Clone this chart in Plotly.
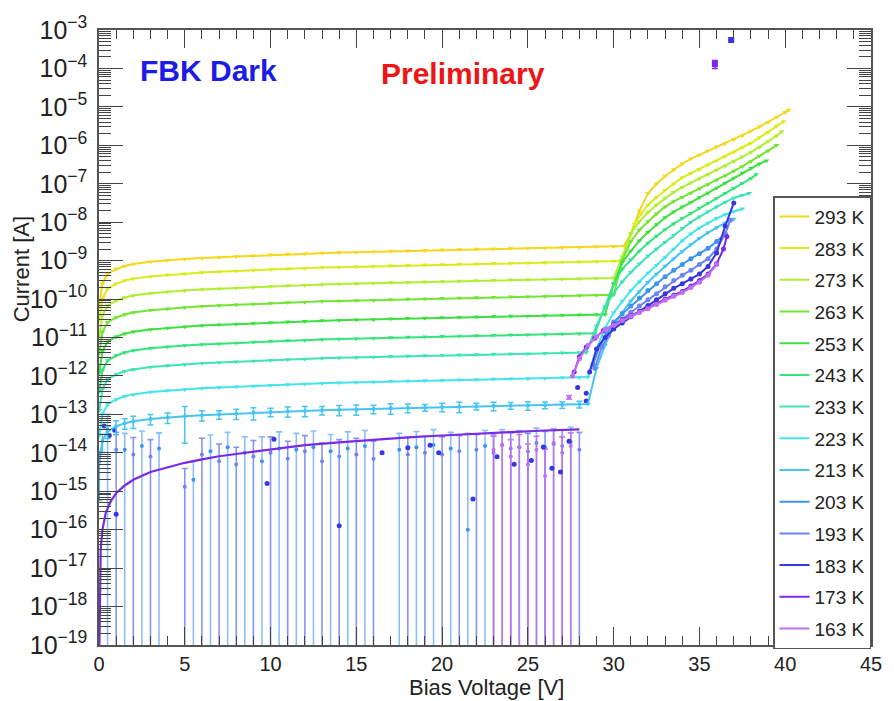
import plotly.graph_objects as go

# ---------------- data (currents, stored as log10(I/A)) ----------------
TEMPERATURES = ["293 K", "283 K", "273 K", "263 K", "253 K", "243 K", "233 K",
                "223 K", "213 K", "203 K", "193 K", "183 K", "173 K", "163 K"]
COLORS = ["#f3d81c", "#d9ec1c", "#b0ee34", "#74e434", "#3ee040", "#36e47c", "#3ee4b8",
          "#46e4e8", "#48c4f2", "#3c94f0", "#6e84f0", "#3636e2", "#7a2ae4", "#c06ef2"]

# common voltage grid of the pre-breakdown plateau [V]
V_PLATEAU = [0.02, 0.2, 0.5, 1, 1.5, 2, 3, 4, 5, 6, 7, 8, 9, 10, 11, 12, 13, 14, 15, 16,
             17, 18, 19, 20, 21, 22, 23, 24, 25, 26, 27, 28]

LOG_PLATEAU_293 = [-10.15, -9.60, -9.35, -9.22, -9.14, -9.09, -9.03, -8.99, -8.96, -8.93, -8.91, -8.89,
                   -8.87, -8.85, -8.83, -8.82, -8.80, -8.79, -8.78, -8.77, -8.75, -8.74, -8.73, -8.72,
                   -8.71, -8.70, -8.69, -8.68, -8.68, -8.67, -8.66, -8.65]
LOG_PLATEAU_283 = [-10.53, -9.98, -9.73, -9.60, -9.52, -9.47, -9.41, -9.37, -9.34, -9.31, -9.29, -9.27,
                   -9.25, -9.23, -9.21, -9.20, -9.18, -9.17, -9.16, -9.15, -9.13, -9.12, -9.11, -9.10,
                   -9.09, -9.08, -9.07, -9.06, -9.06, -9.05, -9.04, -9.03]
LOG_PLATEAU_273 = [-10.97, -10.42, -10.17, -10.04, -9.96, -9.91, -9.85, -9.81, -9.78, -9.75, -9.73, -9.71,
                   -9.69, -9.67, -9.65, -9.64, -9.62, -9.61, -9.60, -9.59, -9.57, -9.56, -9.55, -9.54,
                   -9.53, -9.52, -9.51, -9.50, -9.50, -9.49, -9.48, -9.47]
LOG_PLATEAU_263 = [-11.41, -10.86, -10.61, -10.48, -10.40, -10.35, -10.29, -10.25, -10.22, -10.19, -10.17, -10.15,
                   -10.13, -10.11, -10.09, -10.08, -10.06, -10.05, -10.04, -10.03, -10.01, -10.00, -9.99, -9.98,
                   -9.97, -9.96, -9.95, -9.94, -9.94, -9.93, -9.92, -9.91]
LOG_PLATEAU_253 = [-11.91, -11.36, -11.11, -10.98, -10.90, -10.85, -10.79, -10.75, -10.72, -10.69, -10.67, -10.65,
                   -10.63, -10.61, -10.59, -10.58, -10.56, -10.55, -10.54, -10.53, -10.51, -10.50, -10.49, -10.48,
                   -10.47, -10.46, -10.45, -10.44, -10.44, -10.43, -10.42, -10.41]
LOG_PLATEAU_243 = [-12.40, -11.85, -11.60, -11.47, -11.39, -11.34, -11.28, -11.24, -11.21, -11.18, -11.16, -11.14,
                   -11.12, -11.10, -11.08, -11.07, -11.05, -11.04, -11.03, -11.02, -11.00, -10.99, -10.98, -10.97,
                   -10.96, -10.95, -10.94, -10.93, -10.93, -10.92, -10.91, -10.90]
LOG_PLATEAU_233 = [-12.89, -12.34, -12.09, -11.96, -11.88, -11.83, -11.77, -11.73, -11.70, -11.67, -11.65, -11.63,
                   -11.61, -11.59, -11.57, -11.56, -11.54, -11.53, -11.52, -11.51, -11.49, -11.48, -11.47, -11.46,
                   -11.45, -11.44, -11.43, -11.42, -11.42, -11.41, -11.40, -11.39]
LOG_PLATEAU_223 = [-13.54, -12.99, -12.74, -12.61, -12.53, -12.48, -12.42, -12.38, -12.35, -12.32, -12.30, -12.28,
                   -12.26, -12.24, -12.22, -12.21, -12.19, -12.18, -12.17, -12.16, -12.14, -12.13, -12.12, -12.11,
                   -12.10, -12.09, -12.08, -12.07, -12.07, -12.06, -12.05, -12.04]
LOG_PLATEAU_213 = [-14.24, -13.69, -13.44, -13.31, -13.23, -13.18, -13.12, -13.08, -13.05, -13.02, -13.00, -12.98,
                   -12.96, -12.94, -12.92, -12.91, -12.89, -12.88, -12.87, -12.86, -12.84, -12.83, -12.82, -12.81,
                   -12.80, -12.79, -12.78, -12.77, -12.77, -12.76, -12.75, -12.74]
REL_ERR_213 = [0.9, 0.5, 0.35, 0.4, 0.3, 0.35, 0.3, 0.3, 0.8, 0.3, 0.25, 0.3, 0.35, 0.25, 0.3, 0.3,
               0.25, 0.3, 0.3, 0.25, 0.3, 0.25, 0.2, 0.25, 0.3, 0.2, 0.25, 0.2, 0.25, 0.2, 0.2, 0.2]

# breakdown / post-breakdown branches
V_HIGH_293 = [29, 30, 30.6, 31, 31.5, 32, 32.5, 33, 33.5, 34, 34.5, 35, 35.5, 36, 36.5, 37, 37.5, 38, 38.5, 39, 39.5, 40, 40.2]
LOG_HIGH_293 = [-8.64, -8.63, -8.62, -8.3, -7.7, -7.25, -7.0, -6.8, -6.63, -6.48, -6.35, -6.25, -6.14, -6.04, -5.95,
                -5.85, -5.75, -5.63, -5.52, -5.4, -5.27, -5.14, -5.08]
V_HIGH_283 = [29, 30, 30.4, 30.8, 31.2, 31.6, 32, 32.5, 33, 33.5, 34, 34.5, 35, 35.5, 36, 36.5, 37, 37.5, 38, 38.5, 39, 39.5, 39.9]
LOG_HIGH_283 = [-9.02, -9.01, -9.01, -8.6, -8.05, -7.78, -7.55, -7.35, -7.17, -7.0, -6.84, -6.73, -6.62, -6.51, -6.4,
                -6.29, -6.18, -6.06, -5.94, -5.8, -5.66, -5.5, -5.38]
V_HIGH_273 = [29, 30, 30.5, 31, 31.5, 32, 32.5, 33, 33.5, 34, 34.5, 35, 35.5, 36, 36.5, 37, 37.5, 38, 38.5, 39, 39.5, 39.8]
LOG_HIGH_273 = [-9.46, -9.45, -8.9, -8.3, -7.98, -7.75, -7.55, -7.38, -7.22, -7.09, -6.98, -6.87, -6.76, -6.65, -6.54,
                -6.42, -6.3, -6.18, -6.05, -5.9, -5.75, -5.64]
V_HIGH_263 = [29, 30, 30.5, 31, 31.5, 32, 32.5, 33, 33.5, 34, 34.5, 35, 35.5, 36, 36.5, 37, 37.5, 38, 38.5, 39, 39.5]
LOG_HIGH_263 = [-9.90, -9.89, -9.0, -8.5, -8.2, -7.98, -7.78, -7.6, -7.46, -7.35, -7.24, -7.13, -7.02, -6.9, -6.79,
                -6.67, -6.55, -6.42, -6.28, -6.14, -6.0]
V_HIGH_253 = [29, 29.5, 30, 30.5, 31, 31.5, 32, 32.5, 33, 33.5, 34, 34.5, 35, 35.5, 36, 36.5, 37, 37.5, 38, 38.5, 38.9]
LOG_HIGH_253 = [-10.40, -10.40, -9.6, -9.05, -8.75, -8.48, -8.26, -8.06, -7.88, -7.73, -7.6, -7.48, -7.36, -7.24, -7.11,
                -6.98, -6.85, -6.72, -6.6, -6.48, -6.4]
V_HIGH_243 = [28.9, 29.5, 30, 30.5, 31, 31.5, 32, 32.5, 33, 33.5, 34, 34.5, 35, 35.5, 36, 36.5, 37, 37.5, 38, 38.3]
LOG_HIGH_243 = [-10.89, -10.2, -9.6, -9.22, -8.98, -8.75, -8.54, -8.36, -8.19, -8.04, -7.9, -7.77, -7.64, -7.51, -7.38,
                -7.25, -7.12, -6.99, -6.86, -6.76]
V_HIGH_233 = [28.4, 29, 29.5, 30, 30.5, 31, 31.5, 32, 32.5, 33, 33.5, 34, 34.5, 35, 35.5, 36, 36.5, 37, 37.5, 37.9]
LOG_HIGH_233 = [-11.39, -10.7, -10.2, -9.85, -9.55, -9.3, -9.08, -8.88, -8.7, -8.52, -8.34, -8.16, -8.0, -7.86, -7.72,
                -7.6, -7.48, -7.37, -7.3, -7.25]
V_HIGH_223 = [28.5, 29, 29.5, 30, 30.5, 31, 31.5, 32, 32.5, 33, 33.5, 34, 34.5, 35, 35.5, 36, 36.5, 37, 37.5]
LOG_HIGH_223 = [-12.03, -11.3, -10.75, -10.35, -10.05, -9.78, -9.55, -9.32, -9.12, -8.92, -8.7, -8.48, -8.3, -8.15,
                -8.02, -7.9, -7.8, -7.72, -7.65]
V_HIGH_213 = [28.5, 29, 29.5, 30, 30.5, 31, 31.5, 32, 32.5, 33, 33.5, 34, 34.5, 35, 35.5, 36, 36.5, 37]
LOG_HIGH_213 = [-12.73, -11.8, -11.2, -10.7, -10.35, -10.05, -9.8, -9.56, -9.35, -9.14, -8.95, -8.76, -8.58, -8.42,
                -8.27, -8.14, -8.02, -7.92]
V_HIGH_203 = [28.8, 29.2, 29.6, 30, 30.5, 31, 31.5, 32, 32.5, 33, 33.5, 34, 34.5, 35, 35.5, 36, 36.5]
LOG_HIGH_203 = [-11.7, -11.2, -10.9, -10.6, -10.38, -10.18, -9.98, -9.78, -9.6, -9.42, -9.25, -9.1, -8.95, -8.82,
                -8.68, -8.5, -8.3]
V_HIGH_193 = [28.9, 29.3, 29.7, 30, 30.5, 31, 31.5, 32, 32.5, 33, 33.5, 34, 34.5, 35, 35.5, 36, 36.5, 36.8]
LOG_HIGH_193 = [-11.8, -11.25, -10.95, -10.72, -10.52, -10.34, -10.18, -10.02, -9.86, -9.68, -9.52, -9.38, -9.25,
                -9.1, -8.95, -8.7, -8.3, -7.95]
V_HIGH_183 = [28.6, 29, 29.5, 30, 30.5, 31, 31.5, 32, 32.5, 33, 33.5, 34, 34.5, 35, 35.5, 36, 36.5, 37]
LOG_HIGH_183 = [-11.9, -11.3, -11.0, -10.78, -10.62, -10.46, -10.32, -10.17, -10.02, -9.86, -9.72, -9.6, -9.48,
                -9.35, -9.15, -8.8, -8.1, -7.5]
V_HIGH_173 = [27.7, 28.0, 28.4, 28.9, 29.4, 30, 30.5, 31, 31.5, 32, 32.5, 33, 33.5, 34, 34.5, 35, 35.5, 36, 36.4, 36.6]
LOG_HIGH_173 = [-11.9, -11.5, -11.25, -11.02, -10.82, -10.66, -10.54, -10.43, -10.33, -10.23, -10.12, -10.0, -9.9,
                -9.8, -9.66, -9.52, -9.35, -9.08, -8.7, -8.37]
V_HIGH_163 = [27.6, 28, 28.5, 29, 29.5, 30, 30.5, 31, 31.5, 32, 32.5, 33, 33.5, 34, 34.5, 35, 35.5, 36]
LOG_HIGH_163 = [-12.0, -11.55, -11.2, -10.98, -10.8, -10.68, -10.56, -10.45, -10.35, -10.25, -10.14, -10.03, -9.93,
                -9.83, -9.7, -9.56, -9.38, -9.1]

# 173 K low-voltage fit curve
V_LOW_173 = [0.01, 0.05, 0.1, 0.2, 0.4, 0.7, 1, 1.5, 2, 3, 4, 5, 6, 7, 8, 10, 12, 14, 16, 18, 20, 22, 24, 26, 28]
LOG_LOW_173 = [-19.5, -17.0, -16.5, -16.0, -15.55, -15.25, -15.05, -14.85, -14.7, -14.5, -14.38, -14.26, -14.17,
               -14.09, -14.03, -13.91, -13.8, -13.73, -13.66, -13.6, -13.55, -13.5, -13.46, -13.42, -13.39]

# low-current points with large (symmetric) errors [A]
V_LOW_203 = [0.5, 1.5, 2.5, 3.5, 5.5, 6.5, 7.5, 8.5, 9.5, 10.5, 11.5, 12.5, 13.5, 14.5, 15.5, 17.5, 18.5,
             19.5, 20.5, 21.5, 22.5, 23.5, 24.5, 25.5, 26.5, 27.5]
I_LOW_203 = [4e-14, 1.2e-14, 1.5e-14, 1.3e-14, 2e-15, 1.1e-14, 1.4e-14, 1e-14, 6e-15, 1.3e-14, 1.2e-14, 1.4e-14,
             1.1e-14, 1.3e-14, 1.5e-14, 1.2e-14, 1.4e-14, 1.6e-14, 1.3e-14, 1e-16, 1.5e-14, 1.6e-14, 1.4e-14,
             1.8e-14, 1.7e-14, 1.9e-14]
E_LOW_203 = [6e-14, 2.0e-14, 2.2e-14, 2.0e-14, 4e-15, 1.8e-14, 2.0e-14, 1.6e-14, 2.0e-14, 2.2e-14, 2.0e-14, 2.3e-14,
             1.9e-14, 2.2e-14, 2.3e-14, 2.0e-14, 2.2e-14, 2.4e-14, 2.1e-14, 3.2e-14, 2.3e-14, 2.4e-14, 2.4e-14,
             2.6e-14, 2.6e-14, 2.8e-14]
V_LOW_193 = [1, 2, 3, 5, 6, 7, 8, 9, 10, 11, 12, 13, 14, 15, 16, 18, 19, 20, 21, 22, 23, 24, 25, 26, 27, 28]
I_LOW_193 = [1.2e-14, 9e-15, 8e-15, 1.3e-15, 9e-15, 6e-15, 5e-15, 8e-15, 1e-14, 7e-15, 1.1e-14, 6e-15, 8e-15,
             9e-15, 7e-15, 9e-15, 1e-14, 9e-15, 1.1e-14, 1.2e-14, 1e-14, 1.3e-14, 1.1e-14, 1.4e-14, 1.5e-14, 1.2e-14]
E_LOW_193 = [2.2e-14, 1.6e-14, 1.4e-14, 2.6e-15, 1.5e-14, 1.1e-14, 9e-15, 1.3e-14, 1.6e-14, 1.3e-14, 1.7e-14,
             1.2e-14, 1.4e-14, 1.5e-14, 1.3e-14, 1.6e-14, 1.7e-14, 1.7e-14, 1.7e-14, 1.8e-14, 1.9e-14, 2.0e-14,
             2.1e-14, 2.2e-14, 2.4e-14, 2.2e-14]
V_LOW_183 = [0.3, 0.6, 0.9, 1.0, 9.8, 10.2, 14.0, 16.5, 18.0, 19.3, 19.8, 21.8, 23.2, 24.2, 25.2, 25.9, 26.4,
             26.9, 27.4, 27.9, 28.4, 28.4]
LOG_LOW_183 = [-13.3, -13.55, -13.4, -15.6, -14.8, -13.65, -15.9, -14.0, -13.87, -13.8, -14.0, -15.2, -14.1,
               -14.3, -14.2, -13.85, -14.4, -14.5, -13.7, -12.3, -12.45, -12.65]
V_LOW_163 = [23, 23.5, 24, 24.5, 25, 25.5, 26, 26.5, 27, 27.4, 27.5]
I_LOW_163 = [1.2e-14, 1.6e-14, 8e-15, 1.4e-14, 5e-15, 1.2e-14, 2.5e-15, 1.8e-14, 1e-14, 2.8e-13, 1.5e-14]
E_LOW_163 = [1.5e-14, 1.8e-14, 1.4e-14, 1.6e-14, 1.2e-14, 1.5e-14, 1.0e-14, 2.0e-14, 1.6e-14, 3e-14, 1.8e-14]

# isolated high-current points
V_OUTLIER = [35.9, 36.85]
I_OUTLIER = [1.3e-4, 5.5e-4]
E_OUTLIER = [3e-5, 0]
T_OUTLIER = ["173 K", "183 K"]

# ---------------- figure ----------------
FONT = "Liberation Sans, Arial, Helvetica, sans-serif"


def amps(logs):
    return [10 ** v for v in logs]


fig = go.Figure()
col = dict(zip(TEMPERATURES, COLORS))
rank = {t: i for i, t in enumerate(TEMPERATURES)}

warm = [
    ("293 K", LOG_PLATEAU_293, V_HIGH_293, LOG_HIGH_293),
    ("283 K", LOG_PLATEAU_283, V_HIGH_283, LOG_HIGH_283),
    ("273 K", LOG_PLATEAU_273, V_HIGH_273, LOG_HIGH_273),
    ("263 K", LOG_PLATEAU_263, V_HIGH_263, LOG_HIGH_263),
    ("253 K", LOG_PLATEAU_253, V_HIGH_253, LOG_HIGH_253),
    ("243 K", LOG_PLATEAU_243, V_HIGH_243, LOG_HIGH_243),
    ("233 K", LOG_PLATEAU_233, V_HIGH_233, LOG_HIGH_233),
    ("223 K", LOG_PLATEAU_223, V_HIGH_223, LOG_HIGH_223),
    ("213 K", LOG_PLATEAU_213, V_HIGH_213, LOG_HIGH_213),
]
cold = [
    ("203 K", V_HIGH_203, LOG_HIGH_203),
    ("193 K", V_HIGH_193, LOG_HIGH_193),
    ("183 K", V_HIGH_183, LOG_HIGH_183),
    ("173 K", V_HIGH_173, LOG_HIGH_173),
    ("163 K", V_HIGH_163, LOG_HIGH_163),
]

# low-current points with error bars reaching below the axis (drawn first, underneath)
for name, vx, iy, ey, barcol in [
    ("203 K", V_LOW_203, I_LOW_203, E_LOW_203, "rgba(120,180,245,0.85)"),
    ("193 K", V_LOW_193, I_LOW_193, E_LOW_193, "rgba(110,132,240,0.85)"),
    ("163 K", V_LOW_163, I_LOW_163, E_LOW_163, "rgba(192,110,242,0.9)"),
]:
    fig.add_trace(go.Scatter(
        x=vx, y=iy, mode="markers", name=name, legendgroup=name, legendrank=rank[name],
        showlegend=False,
        marker=dict(size=4, color=col[name]),
        error_y=dict(type="data", array=ey, visible=True, color=barcol, thickness=1.6, width=3),
    ))

fig.add_trace(go.Scatter(
    x=V_LOW_183, y=amps(LOG_LOW_183), mode="markers", name="183 K", legendgroup="183 K",
    legendrank=rank["183 K"], showlegend=False, marker=dict(size=5, color=col["183 K"]),
))

# warm curves: plateau + breakdown branch
for name, lp, vh, lh in warm:
    xs = V_PLATEAU + vh
    ys = amps(lp + lh)
    c = col[name]
    fig.add_trace(go.Scatter(
        x=xs, y=ys, mode="lines", name=name, legendgroup=name, legendrank=rank[name],
        line=dict(color=c, width=2),
    ))
    if name == "213 K":
        ip = amps(lp)
        err = [r * i for r, i in zip(REL_ERR_213, ip)]
        fig.add_trace(go.Scatter(
            x=V_PLATEAU, y=ip, mode="markers", name=name, legendgroup=name, legendrank=rank[name],
            showlegend=False, marker=dict(size=4, color=c),
            error_y=dict(type="data", array=err, visible=True, color=c, thickness=1.5, width=3),
        ))
        fig.add_trace(go.Scatter(
            x=vh, y=amps(lh), mode="markers", name=name, legendgroup=name, legendrank=rank[name],
            showlegend=False, marker=dict(size=5, color=c, symbol="triangle-down"),
        ))
    else:
        fig.add_trace(go.Scatter(
            x=xs, y=ys, mode="markers", name=name, legendgroup=name, legendrank=rank[name],
            showlegend=False, marker=dict(size=5, color=c, symbol="triangle-down"),
        ))

# 173 K low-voltage fit
fig.add_trace(go.Scatter(
    x=V_LOW_173, y=amps(LOG_LOW_173), mode="lines", name="173 K", legendgroup="173 K",
    legendrank=rank["173 K"], showlegend=False, line=dict(color=col["173 K"], width=2.2),
))

# cold curves: post-breakdown branch (line carries the legend entry, markers separate)
for name, vh, lh in cold:
    c = col[name]
    ys = amps(lh)
    fig.add_trace(go.Scatter(
        x=vh, y=ys, mode="lines", name=name, legendgroup=name, legendrank=rank[name],
        line=dict(color=c, width=2),
    ))
    fig.add_trace(go.Scatter(
        x=vh, y=ys, mode="markers", name=name, legendgroup=name, legendrank=rank[name],
        showlegend=False, marker=dict(size=5, color=c),
    ))

# isolated points
for v, i, e, t in zip(V_OUTLIER, I_OUTLIER, E_OUTLIER, T_OUTLIER):
    fig.add_trace(go.Scatter(
        x=[v], y=[i], mode="markers", name=t, legendgroup=t, legendrank=rank[t], showlegend=False,
        marker=dict(size=6, color=col[t], symbol="square"),
        error_y=dict(type="data", array=[e], visible=e > 0, color=col[t], thickness=1.5, width=3),
    ))

axis_common = dict(
    showgrid=False, zeroline=False, showline=True, linecolor="#555", linewidth=1.5,
    mirror="allticks", ticks="inside", tickcolor="#444", tickwidth=1.2,
    tickfont=dict(family=FONT, size=20, color="#222"),
)
fig.update_xaxes(
    range=[0, 45], tick0=0, dtick=5, ticklen=18,
    minor=dict(dtick=1, ticks="inside", ticklen=9, tickcolor="#444", tickwidth=1),
    **axis_common,
)
fig.update_yaxes(
    type="log", range=[-19, -3], dtick=1, exponentformat="power", ticklen=24,
    ticklabelstandoff=6,
    minor=dict(dtick="D1", ticks="inside", ticklen=12, tickcolor="#444", tickwidth=1),
    **axis_common,
)

fig.update_layout(
    width=894, height=701,
    margin=dict(l=99, r=12, t=20, b=56),
    paper_bgcolor="white", plot_bgcolor="white",
    font=dict(family=FONT, color="#222"),
    showlegend=True,
    legend=dict(
        x=1, xanchor="right", y=0.73, yanchor="top",
        bgcolor="white", bordercolor="#555", borderwidth=1.5,
        font=dict(family=FONT, size=19, color="#222"),
        traceorder="grouped", tracegroupgap=4, itemwidth=30,
    ),
    annotations=[
        dict(text="<b>FBK Dark</b>", xref="paper", yref="paper", x=0.1418, y=0.934,
             xanchor="center", yanchor="middle", showarrow=False,
             font=dict(family=FONT, size=30, color="#1c1ce6")),
        dict(text="<b>Preliminary</b>", xref="paper", yref="paper", x=0.471, y=0.930,
             xanchor="center", yanchor="middle", showarrow=False,
             font=dict(family=FONT, size=30, color="#f01414")),
        dict(text="Bias Voltage [V]", xref="paper", yref="paper", x=0.502, y=-0.0688,
             xanchor="center", yanchor="middle", showarrow=False,
             font=dict(family=FONT, size=22, color="#222")),
        dict(text="Current [A]", xref="paper", yref="paper", x=-0.1009, y=0.611,
             xanchor="center", yanchor="middle", showarrow=False, textangle=-90,
             font=dict(family=FONT, size=22, color="#222")),
    ],
)

fig.write_html("out.html")
